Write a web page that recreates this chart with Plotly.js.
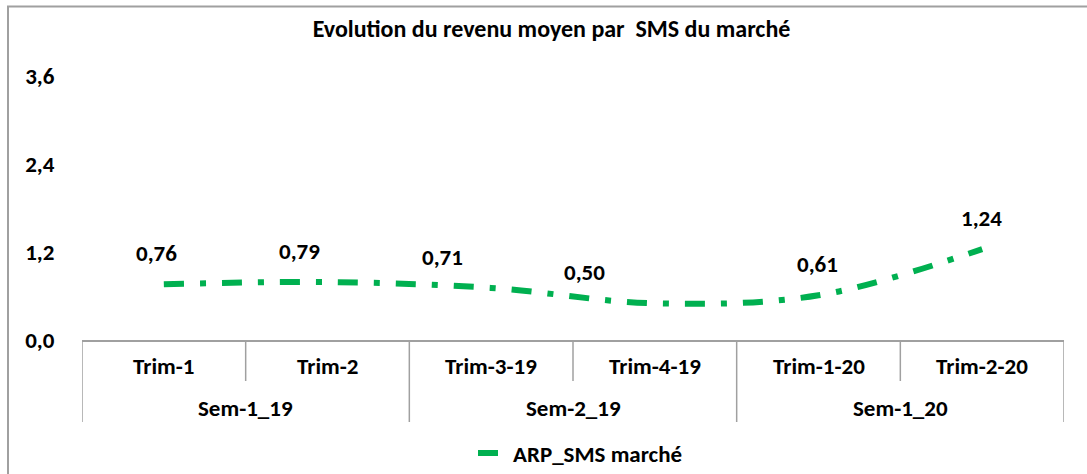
<!DOCTYPE html>
<html>
<head>
<meta charset="utf-8">
<script src="https://cdn.plot.ly/plotly-3.0.1.min.js"></script>
<style>
html,body{margin:0;padding:0;background:#fff;}
#chart{width:1087px;height:474px;}
</style>
</head>
<body>
<div id="chart"></div>
<script>
// ---- data ----
const semesters = ["Sem-1_19","Sem-1_19","Sem-2_19","Sem-2_19","Sem-1_20","Sem-1_20"];
const quarters  = ["Trim-1","Trim-2","Trim-3-19","Trim-4-19","Trim-1-20","Trim-2-20"];
const arpSms    = [0.76, 0.79, 0.71, 0.50, 0.61, 1.24];
const seriesName = "ARP_SMS marché";
const chartTitle = "Evolution du revenu moyen par \u00a0SMS du marché";
const yTicks = [0, 1.2, 2.4, 3.6];

// ---- style ----
const FONT = "Carlito, Calibri, Lato, 'Open Sans', sans-serif";
const FS = 23;
const GREEN = "#00B050";
const GRAY = "#a0a0a0";
const labelDx = [-7, -28, -49, -70, -1, -1];
const PLOT_H = 264;

const fmt = v => v.toFixed(2).replace('.', ',');
const txtFont = {family: FONT, size: FS, color: '#000', weight: 700};

const trace = {
  type: 'scatter',
  mode: 'lines',
  x: quarters,
  y: arpSms,
  name: seriesName,
  line: {color: GREEN, width: 6, shape: 'spline', smoothing: 1, dash: '20px,16px,6px,16px'},
  hoverinfo: 'x+y'
};

const annotations = [];
arpSms.forEach((v, i) => {
  annotations.push({
    xref: 'x', yref: 'y', x: quarters[i], y: v,
    text: fmt(v), showarrow: false,
    xanchor: 'center', yanchor: 'middle',
    xshift: labelDx[i], yshift: 31,
    font: txtFont
  });
});
// inner-level labels
quarters.forEach((q, i) => {
  annotations.push({
    xref: 'x', yref: 'paper', x: i, y: 0, yshift: -26,
    text: q, showarrow: false, xanchor: 'center', yanchor: 'middle',
    font: txtFont
  });
});
// outer-level labels + dividers
const shapes = [];
const groups = [];
semesters.forEach((s, i) => {
  if (i === 0 || s !== semesters[i - 1]) groups.push({name: s, start: i, end: i});
  else groups[groups.length - 1].end = i;
});
groups.forEach(g => {
  annotations.push({
    xref: 'x', yref: 'paper', x: (g.start + g.end) / 2, y: 0, yshift: -68,
    text: g.name, showarrow: false, xanchor: 'center', yanchor: 'middle',
    font: txtFont
  });
});
for (let i = 0; i <= quarters.length; i++) {
  const isOuter = (i === 0 || i === quarters.length || semesters[i] !== semesters[i - 1]);
  shapes.push({
    type: 'line', xref: 'x', yref: 'paper',
    x0: i - 0.5, x1: i - 0.5, y0: 0, y1: -(isOuter ? 82 : 41) / PLOT_H,
    line: {color: GRAY, width: 1.5}
  });
}
// outer chart frame
shapes.push({
  type: 'rect', xref: 'paper', yref: 'paper',
  x0: -74 / 982, x1: 1.05, y0: -0.6, y1: 333.5 / PLOT_H,
  line: {color: GRAY, width: 2}, fillcolor: 'rgba(0,0,0,0)'
});

const layout = {
  width: 1087, height: 474,
  margin: {l: 82, r: 23, t: 76, b: 134, autoexpand: false},
  paper_bgcolor: '#fff', plot_bgcolor: '#fff',
  separators: ', ',
  font: txtFont,
  title: {
    text: chartTitle, x: 0.5 + 8 / 1087, xref: 'container', xanchor: 'center',
    y: 1 - 29 / 474, yref: 'container', yanchor: 'middle',
    font: {family: FONT, size: 24, color: '#000', weight: 700}
  },
  xaxis: {
    type: 'category', range: [-0.5, quarters.length - 0.5],
    showticklabels: false, ticks: '', showgrid: false, zeroline: false,
    showline: true, linecolor: GRAY, linewidth: 1.5, fixedrange: true
  },
  yaxis: {
    range: [0, 3.6], tickvals: yTicks, tickformat: '.1f',
    showgrid: false, zeroline: false, showline: false,
    ticks: 'outside', ticklen: 22, tickcolor: 'rgba(0,0,0,0)',
    tickfont: txtFont,
    fixedrange: true
  },
  showlegend: true,
  legend: {
    orientation: 'h', x: 391 / 982, xanchor: 'left',
    y: -113 / PLOT_H, yanchor: 'middle',
    font: txtFont,
    bgcolor: 'rgba(0,0,0,0)'
  },
  annotations: annotations,
  shapes: shapes
};

Plotly.newPlot('chart', [trace], layout, {displayModeBar: false, staticPlot: true});
</script>
</body>
</html>
